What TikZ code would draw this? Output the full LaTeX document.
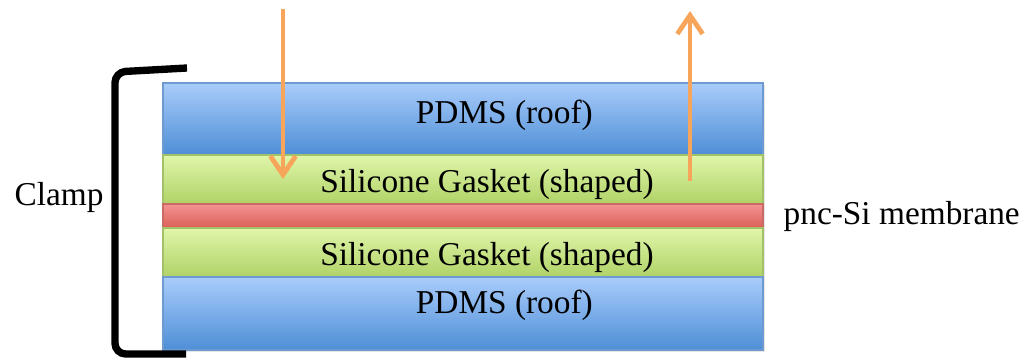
\documentclass[tikz,border=0pt]{standalone}
\usepackage{fontspec}
\setmainfont{Liberation Serif}
\usepackage{xcolor}
\usetikzlibrary{positioning,arrows.meta,shadows}

\definecolor{pdmsTop}{HTML}{A9CCFB}
\definecolor{pdmsBot}{HTML}{4E8ED6}
\definecolor{pdmsEdge}{HTML}{6E9AD2}
\definecolor{gasketTop}{HTML}{E0F6AA}
\definecolor{gasketBot}{HTML}{B0D267}
\definecolor{gasketEdge}{HTML}{A3C168}
\definecolor{membTop}{HTML}{F39392}
\definecolor{membBot}{HTML}{DB5F57}
\definecolor{membEdge}{HTML}{C96A66}
\definecolor{flow}{HTML}{F7A55A}

\tikzset{
  layer/.style={draw=#1Edge, line width=0.8pt, top color=#1Top, bottom color=#1Bot,
    minimum width=450pt, inner sep=0pt, outer sep=0pt,
    drop shadow={opacity=0.2, shadow xshift=1.5pt, shadow yshift=-1.5pt}},
  layertext/.style={font=\fontsize{25}{30}\selectfont},
  flowarrow/.style={draw=flow, line width=3.6pt,
    -{Straight Barb[length=14pt, width=19pt, line width=3.6pt]}},
  clampline/.style={line width=5.5pt, rounded corners=8pt},
}

\begin{document}
\begin{tikzpicture}[x=0.75pt, y=-0.75pt]
  \useasboundingbox (0,0) rectangle (1029,360);

  % stack of layers
  \node[layer=pdms, minimum height=54pt, anchor=north] (roofA) at (463,83) {};
  \node[layer=gasket, minimum height=36.75pt, below=0pt of roofA] (gasketA) {};
  \node[layer=memb, minimum height=18pt, below=0pt of gasketA] (memb) {};
  \node[layer=gasket, minimum height=36.75pt, below=0pt of memb] (gasketB) {};
  \node[layer=pdms, minimum height=54.75pt, below=0pt of gasketB] (roofB) {};

  \node[layertext, xshift=31pt, yshift=3pt] (roofAtxt) at (roofA) {PDMS (roof)};
  \node[layertext, xshift=18pt, yshift=-3.75pt] (gasketAtxt) at (gasketA) {Silicone Gasket (shaped)};
  \node[layertext, xshift=18pt, yshift=-3.75pt] (gasketBtxt) at (gasketB) {Silicone Gasket (shaped)};
  \node[layertext, xshift=31pt, yshift=6pt] (roofBtxt) at (roofB) {PDMS (roof)};

  \node[layertext, right=12pt of memb] (membtxt) {pnc-Si membrane};

  % clamp bracket
  \coordinate (clampTop) at (187,68);
  \coordinate (clampBot) at (186,354);
  \draw[clampline] (clampTop) -- (115,72) -- (115,354) -- (clampBot);
  \node[layertext] (clamptxt) at (59,197) {Clamp};

  % flow in and out
  \coordinate (inStart) at (283,9);
  \coordinate (inEnd) at (283,179);
  \coordinate (outStart) at (690,181);
  \coordinate (outEnd) at (690,11);
  \draw[flowarrow] (inStart) -- (inEnd);
  \draw[flowarrow] (outStart) -- (outEnd);

\end{tikzpicture}
\end{document}
